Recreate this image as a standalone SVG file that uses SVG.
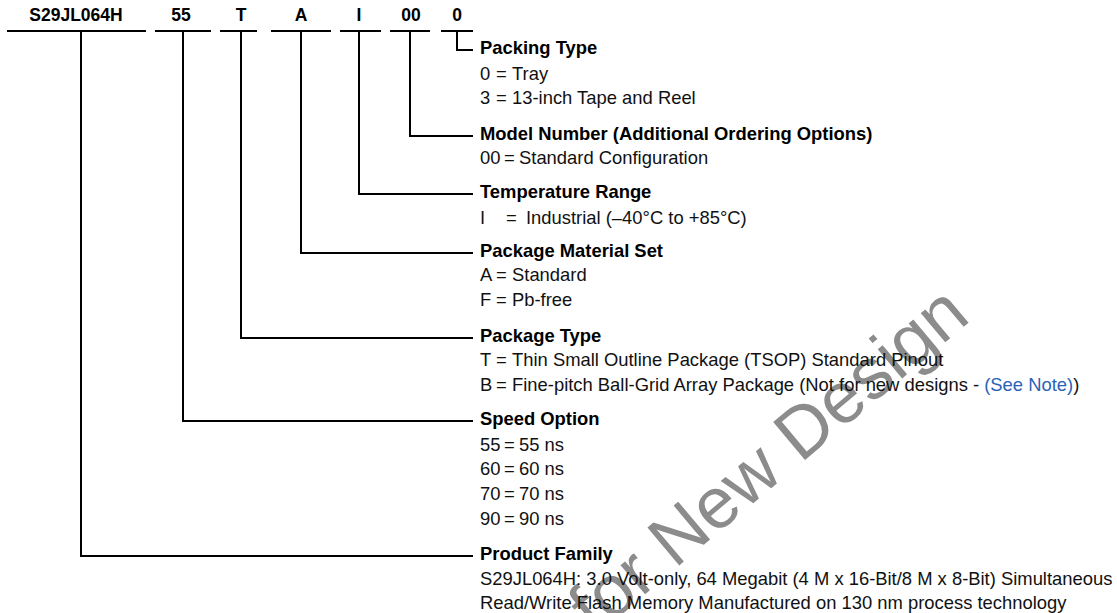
<svg xmlns="http://www.w3.org/2000/svg" width="1117" height="613" viewBox="0 0 1117 613">
<style>
.wm{font-family:"Liberation Sans",Arial,sans-serif;font-size:72px;fill:#8c8c8c}
.top{font-family:"Liberation Sans",Arial,sans-serif;font-size:17.5px;font-weight:bold;fill:#000;text-anchor:middle}
.h{font-family:"Liberation Sans",Arial,sans-serif;font-size:18.4px;font-weight:bold;fill:#000}
.t{font-family:"Liberation Sans",Arial,sans-serif;font-size:18.4px;fill:#111}
.lnk{fill:#2a62b8}
.c{fill:none;stroke:#000;stroke-width:2}
</style>
<rect width="1117" height="613" fill="#fff"/>
<text class="wm" x="494" y="721" transform="rotate(-40 494 721)">Not for New Design</text>
<g id="code">
<text class="top" x="76" y="21">S29JL064H</text>
<text class="top" x="181" y="21">55</text>
<text class="top" x="241" y="21">T</text>
<text class="top" x="301" y="21">A</text>
<text class="top" x="359" y="21">I</text>
<text class="top" x="411" y="21">00</text>
<text class="top" x="457" y="21">0</text>
</g>
<g id="connectors">
<path class="c" d="M7 31H146M155 31H211M220 31H257M271 31H331M340 31H381M390 31H430M441 31H473"/>
<path class="c" d="M457 31V50H473"/>
<path class="c" d="M410 31V136H473"/>
<path class="c" d="M359 31V194H473"/>
<path class="c" d="M301 31V253H473"/>
<path class="c" d="M241 31V338H473"/>
<path class="c" d="M183 31V421H473"/>
<path class="c" d="M81 31V556H473"/>
</g>
<g id="packing-type">
<text class="h" x="480" y="54">Packing Type</text>
<text class="t" y="80"><tspan x="480">0</tspan><tspan x="496">=</tspan><tspan x="512">Tray</tspan></text>
<text class="t" y="104"><tspan x="480">3</tspan><tspan x="496">=</tspan><tspan x="512">13-inch Tape and Reel</tspan></text>
</g>
<g id="model-number">
<text class="h" x="480" y="140">Model Number (Additional Ordering Options)</text>
<text class="t" y="164"><tspan x="480">00</tspan><tspan x="504">=</tspan><tspan x="519">Standard Configuration</tspan></text>
</g>
<g id="temperature-range">
<text class="h" x="480" y="198">Temperature Range</text>
<text class="t" y="224"><tspan x="480">I</tspan><tspan x="506">=</tspan><tspan x="526">Industrial (–40°C to +85°C)</tspan></text>
</g>
<g id="package-material-set">
<text class="h" x="480" y="257">Package Material Set</text>
<text class="t" y="281"><tspan x="480">A</tspan><tspan x="496">=</tspan><tspan x="512">Standard</tspan></text>
<text class="t" y="306"><tspan x="480">F</tspan><tspan x="496">=</tspan><tspan x="512">Pb-free</tspan></text>
</g>
<g id="package-type">
<text class="h" x="480" y="342">Package Type</text>
<text class="t" y="366"><tspan x="480">T</tspan><tspan x="496">=</tspan><tspan x="512">Thin Small Outline Package (TSOP) Standard Pinout</tspan></text>
<text class="t" y="391"><tspan x="480">B</tspan><tspan x="496">=</tspan><tspan x="512">Fine-pitch Ball-Grid Array Package (Not for new designs - </tspan><tspan class="lnk">(See Note)</tspan>)</text>
</g>
<g id="speed-option">
<text class="h" x="480" y="425">Speed Option</text>
<text class="t" y="451"><tspan x="480">55</tspan><tspan x="504">=</tspan><tspan x="519">55 ns</tspan></text>
<text class="t" y="475"><tspan x="480">60</tspan><tspan x="504">=</tspan><tspan x="519">60 ns</tspan></text>
<text class="t" y="500"><tspan x="480">70</tspan><tspan x="504">=</tspan><tspan x="519">70 ns</tspan></text>
<text class="t" y="525"><tspan x="480">90</tspan><tspan x="504">=</tspan><tspan x="519">90 ns</tspan></text>
</g>
<g id="product-family">
<text class="h" x="480" y="560">Product Family</text>
<text class="t" x="480" y="585">S29JL064H: 3.0 Volt-only, 64 Megabit (4 M x 16-Bit/8 M x 8-Bit) Simultaneous</text>
<text class="t" x="480" y="609">Read/Write Flash Memory Manufactured on 130 nm process technology</text>
</g>
</svg>
